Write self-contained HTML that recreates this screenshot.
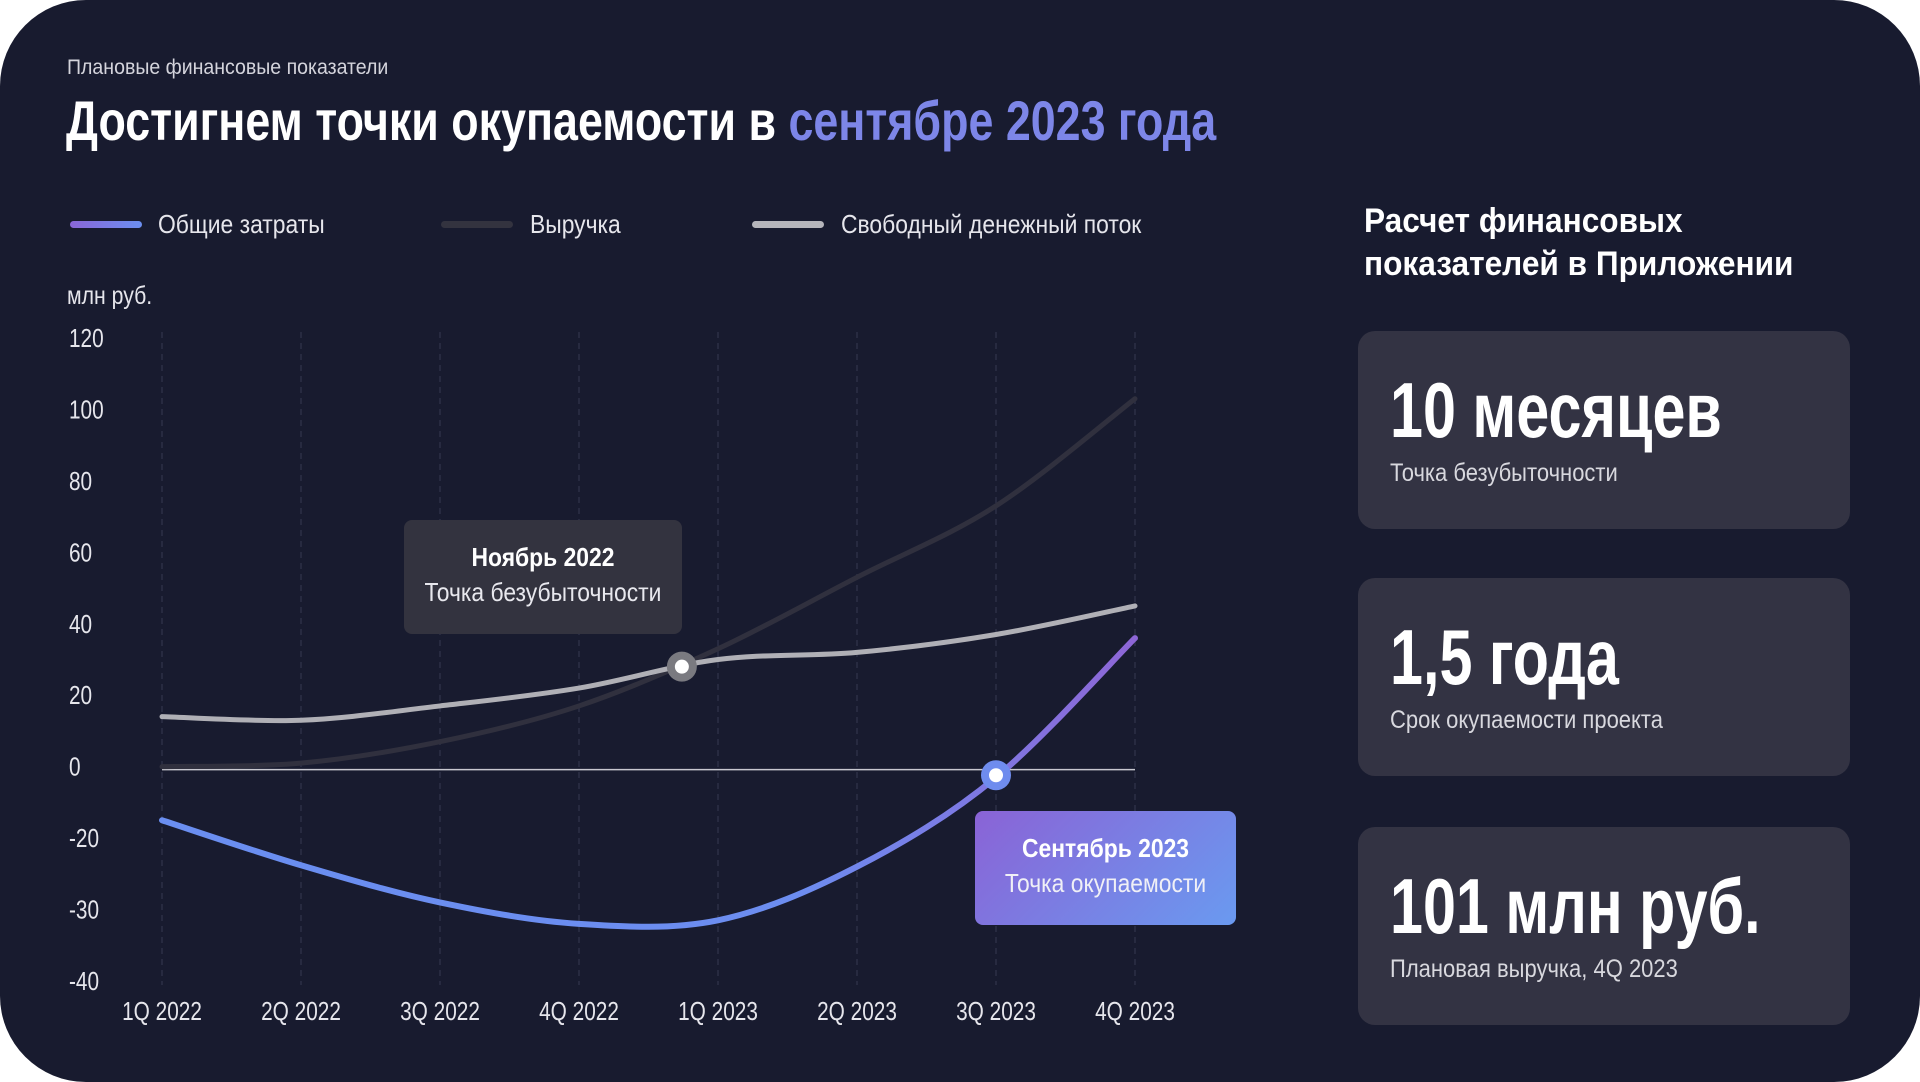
<!DOCTYPE html>
<html><head><meta charset="utf-8">
<style>
html,body{margin:0;padding:0;background:#fff;}
body{width:1920px;height:1082px;position:relative;overflow:hidden;font-family:"Liberation Sans",sans-serif;}
#slide{position:absolute;left:0;top:0;width:1920px;height:1082px;background:#181b2f;border-radius:86px;}
.t{position:absolute;color:#fff;white-space:nowrap;transform-origin:0 0;}
.card{position:absolute;left:1358px;width:492px;height:198px;background:#333343;border-radius:17px;}
.card .big{position:absolute;left:32px;top:34px;font-weight:bold;font-size:78px;color:#fff;white-space:nowrap;transform:scaleX(0.76);transform-origin:0 0;}
.card .sub{position:absolute;left:32px;top:128px;font-size:25px;color:#d8d8de;white-space:nowrap;transform:scaleX(0.88);transform-origin:0 0;}
.tip div{transform:scaleX(0.88);}
</style></head><body>
<div id="slide"></div>
<div class="t" style="left:67px;top:56px;font-size:21px;color:#d4d4dc;transform:scaleX(0.93);">Плановые финансовые показатели</div>
<div class="t" style="left:66px;top:88px;font-size:56px;font-weight:bold;transform:scaleX(0.8);">Достигнем точки окупаемости в <span style="color:#7d86e8">сентябре 2023 года</span></div>

<div>
<div style="position:absolute;left:70px;top:221px;width:72px;height:7px;border-radius:4px;background:linear-gradient(90deg,#8a66d8,#6b8ff0);"></div>
<div class="t" style="left:158px;top:209px;font-size:26px;color:#e6e6ec;transform:scaleX(0.88);">Общие затраты</div>
<div style="position:absolute;left:441px;top:221px;width:72px;height:7px;border-radius:4px;background:#33333f;"></div>
<div class="t" style="left:530px;top:209px;font-size:26px;color:#e6e6ec;transform:scaleX(0.88);">Выручка</div>
<div style="position:absolute;left:752px;top:221px;width:72px;height:7px;border-radius:4px;background:#b5b5bb;"></div>
<div class="t" style="left:841px;top:209px;font-size:26px;color:#e6e6ec;transform:scaleX(0.88);">Свободный денежный поток</div>
</div>
<div class="t" style="left:67px;top:282px;font-size:25px;color:#e6e6ec;transform:scaleX(0.85);">млн руб.</div>

<svg id="chart" width="1920" height="1082" style="position:absolute;left:0;top:0;">
<defs>
<linearGradient id="costGrad" gradientUnits="userSpaceOnUse" x1="162" y1="0" x2="1135" y2="0">
<stop offset="0" stop-color="#6a8ef0"/><stop offset="0.65" stop-color="#6c8df0"/><stop offset="1" stop-color="#8d66d6"/>
</linearGradient>
</defs>
<g id="grid"></g><g id="lines"></g><g id="marks"></g><g id="labels"></g>
</svg>

<div class="tip" style="position:absolute;left:404px;top:520px;width:278px;height:114px;background:#33333f;border-radius:8px;text-align:center;color:#fff;">
<div style="margin-top:22px;font-size:26px;font-weight:bold;">Ноябрь 2022</div>
<div style="margin-top:4px;font-size:26px;color:#e8e8ee;">Точка безубыточности</div>
</div>
<div class="tip" style="position:absolute;left:975px;top:811px;width:261px;height:114px;background:linear-gradient(135deg,#8a63d6,#6a9af0);border-radius:8px;text-align:center;color:#fff;">
<div style="margin-top:22px;font-size:26px;font-weight:bold;">Сентябрь 2023</div>
<div style="margin-top:4px;font-size:26px;color:#f0f0f6;">Точка окупаемости</div>
</div>

<div class="t" style="left:1364px;top:200px;font-weight:bold;font-size:34px;line-height:43px;transform:scaleX(0.93);">Расчет финансовых<br>показателей в Приложении</div>
<div class="card" style="top:331px;"><div class="big">10 месяцев</div><div class="sub">Точка безубыточности</div></div>
<div class="card" style="top:578px;"><div class="big">1,5 года</div><div class="sub">Срок окупаемости проекта</div></div>
<div class="card" style="top:827px;"><div class="big">101 млн руб.</div><div class="sub">Плановая выручка, 4Q 2023</div></div>

<script>
const categories = ["1Q 2022","2Q 2022","3Q 2022","4Q 2022","1Q 2023","2Q 2023","3Q 2023","4Q 2023"];
const yTicks = [120,100,80,60,40,20,0,-20,-30,-40];
const revenue = [0,1,7,17,33,53,73,103];
const totalCosts = [-15,-23.8,-29,-32,-31.5,-24,-3,36];
const freeCashFlow = [14,13,17,22,30,32,37,45];
const breakevenPoint = [3.74,28];
const paybackPoint = [6.0,-2.4];

const NS="http://www.w3.org/2000/svg";
const X0=162,X1=1135,YT=338,YB=981;
function xs(i){return X0+(X1-X0)*i/(categories.length-1);}
function ys(v){
  const step=(YB-YT)/(yTicks.length-1);
  for(let k=0;k<yTicks.length-1;k++){
    const a=yTicks[k],b=yTicks[k+1];
    if(v<=a&&v>=b) return YT+step*(k+(a-v)/(a-b));
  }
  if(v>yTicks[0]) return YT-step*(v-yTicks[0])/(yTicks[0]-yTicks[1]);
  return YB+step*(yTicks[yTicks.length-1]-v)/10;
}
function el(tag,attrs,parent){const e=document.createElementNS(NS,tag);for(const k in attrs)e.setAttribute(k,attrs[k]);parent.appendChild(e);return e;}
const grid=document.getElementById('grid'),lines=document.getElementById('lines'),marks=document.getElementById('marks'),labels=document.getElementById('labels');

categories.forEach((c,i)=>{
  const g=el('line',{x1:xs(i),x2:xs(i),y1:332,y2:985,stroke:'#2c3047','stroke-width':1.5,'stroke-dasharray':'6 5'},grid);
  
  
  const t=el('text',{x:0,y:0,transform:'translate('+xs(i)+',1020) scale(0.8,1)','text-anchor':'middle','font-size':26,fill:'#e6e6ec'},labels);
  t.textContent=c;
  
  
});
yTicks.forEach(v=>{
  const t=el('text',{x:0,y:0,transform:'translate(69,'+(ys(v)+9)+') scale(0.8,1)','font-size':26,fill:'#e6e6ec'},labels);
  t.textContent=v;
  
  
});
const zl=el('line',{x1:X0,x2:X1,y1:ys(0)+3,y2:ys(0)+3,stroke:'#c8c8d0','stroke-width':1.5},grid);



function path(vals){
  const p=vals.map((v,i)=>[xs(i),ys(v)]);
  let d='M'+p[0][0]+','+p[0][1];
  for(let i=0;i<p.length-1;i++){
    const p0=p[i-1]||p[i],p1=p[i],p2=p[i+1],p3=p[i+2]||p2;
    const c1=[p1[0]+(p2[0]-p0[0])/6,p1[1]+(p2[1]-p0[1])/6];
    const c2=[p2[0]-(p3[0]-p1[0])/6,p2[1]-(p3[1]-p1[1])/6];
    d+=' C'+c1+' '+c2+' '+p2;
  }
  return d;
}
const r=el('path',{d:path(revenue),fill:'none',stroke:'#30303e','stroke-width':5,'stroke-linecap':'round'},lines);


const f=el('path',{d:path(freeCashFlow),fill:'none',stroke:'#b0b0b6','stroke-width':5,'stroke-linecap':'round'},lines);


const c=el('path',{d:path(totalCosts),fill:'none',stroke:'url(#costGrad)','stroke-width':6,'stroke-linecap':'round'},lines);



function marker(pt,ring,name){
  const g=el('g',{},marks);
  
  
  el('circle',{cx:xs(pt[0]),cy:ys(pt[1]),r:15,fill:ring},g);
  el('circle',{cx:xs(pt[0]),cy:ys(pt[1]),r:7,fill:'#fff'},g);
}
marker(breakevenPoint,'#7a7a80','breakeven-marker');
marker(paybackPoint,'#6f8cee','payback-marker');
</script>
</body></html>
